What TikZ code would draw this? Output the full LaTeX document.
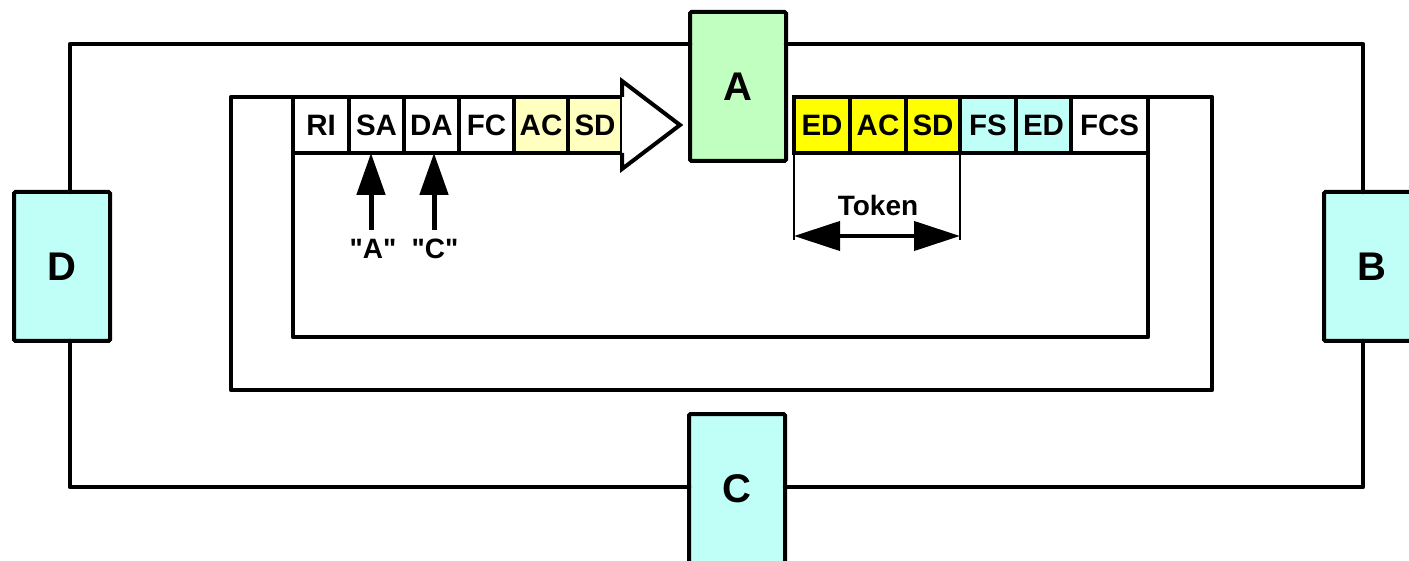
\documentclass[tikz,border=0pt]{standalone}
\usepackage{fontspec}
\setmainfont{Liberation Sans}
\newfontfamily\qfont{Liberation Sans}[Ligatures=TeXOff]
\usetikzlibrary{arrows.meta}
\definecolor{cyanbox}{RGB}{192,255,248}
\definecolor{greenbox}{RGB}{192,255,192}
\definecolor{paleyellow}{RGB}{255,255,192}
\definecolor{fullyellow}{RGB}{255,255,0}
\begin{document}
\begin{tikzpicture}[x=1pt,y=-1pt,
  station/.style={draw, line width=4pt, rounded corners=1.5pt, minimum width=96pt, minimum height=149pt, inner sep=0pt, outer sep=0pt, font=\bfseries\fontsize{40}{44}\selectfont},
  cell/.style={draw, line width=4pt, minimum height=56pt, inner sep=0pt, outer sep=0pt, font=\bfseries\fontsize{29.5}{31}\selectfont},
  ring/.style={line width=4.5pt, line join=round, line cap=round},
  lbl/.style={inner sep=0pt, font=\bfseries\fontsize{28}{30}\selectfont},
  uparrow/.style={line width=5pt, -{Triangle[length=42pt,width=28pt]}},
  dimline/.style={line width=2.5pt},
  dimarrow/.style={line width=4pt, {Triangle[length=46pt,width=29pt]}-{Triangle[length=46pt,width=29pt]}}
]
\useasboundingbox (0,0) rectangle (1409,561);
% coordinates
\coordinate (tl) at (70,44);
\coordinate (tr) at (1363,44);
\coordinate (bl) at (70,487);
\coordinate (br) at (1363,487);
\coordinate (mtl) at (231,97);
\coordinate (mbl) at (231,390);
\coordinate (mbr) at (1212,390);
\coordinate (mtr) at (1212,97);
\coordinate (ibl) at (293,337);
\coordinate (ibr) at (1148,337);
\coordinate (tokY) at (0,236);
\coordinate (dimB) at (0,240);
\coordinate (aA) at (371,230);
\coordinate (aC) at (434,230);
\coordinate (ah1) at (622,81);
\coordinate (ah2) at (680,125);
\coordinate (ah3) at (622,169);

% stations
\node[station, fill=greenbox] (A) at (738,86.5) {A};
\node[station, fill=cyanbox] (B) at (1372,266.5) {B};
\node[station, fill=cyanbox] (C) at (737,488.5) {C};
\node[station, fill=cyanbox] (D) at (62,266.5) {D};

% frame cells (left, travelling)
\node[cell, fill=white, minimum width=56pt] (RI) at (321,125) {RI};
\node[cell, fill=white, minimum width=55pt] (SA) at (376.5,125) {SA};
\node[cell, fill=white, minimum width=55pt] (DA) at (431.5,125) {DA};
\node[cell, fill=white, minimum width=55pt] (FC) at (486.5,125) {FC};
\node[cell, fill=paleyellow, minimum width=54pt] (AC) at (541,125) {AC};
\node[cell, fill=paleyellow, minimum width=54pt] (SD) at (595,125) {SD};
\draw[line width=4pt, fill=white, line join=miter] (SD.north east) -- (ah1) -- (ah2) -- (ah3) -- (SD.south east);

% frame cells (right)
\node[cell, fill=fullyellow, minimum width=56pt] (ED1) at (822,125) {ED};
\node[cell, fill=fullyellow, minimum width=56pt] (AC2) at (878,125) {AC};
\node[cell, fill=fullyellow, minimum width=54pt] (SD2) at (933,125) {SD};
\node[cell, fill=cyanbox, minimum width=56pt] (FS) at (988,125) {FS};
\node[cell, fill=cyanbox, minimum width=55pt] (ED2) at (1043.5,125) {ED};
\node[cell, fill=white, minimum width=77pt] (FCS) at (1109.5,125) {FCS};

% outer ring
\draw[ring] (A.west |- tl) -- (tl) -- (D.north -| tl);
\draw[ring] (D.south -| bl) -- (bl) -- (C.west |- bl);
\draw[ring] (C.east |- br) -- (br) -- (B.south -| br);
\draw[ring] (B.north -| tr) -- (tr) -- (A.east |- tr);

% middle ring
\draw[ring] (RI.north west) -- (mtl) -- (mbl) -- (mbr) -- (mtr) -- (FCS.north east);
% inner ring
\draw[ring] (RI.south west) -- (RI.south west |- ibl) -- (ibr) -- (FCS.south east);

% address arrows
\node[lbl] (qA) at (373,249) {\qfont "A"};
\node[lbl] (qC) at (435,249) {\qfont "C"};
\draw[uparrow] (aA) -- (aA |- SA.south);
\draw[uparrow] (aC) -- (aC |- DA.south);

% token dimension
\draw[dimline] (ED1.south west) -- (ED1.south west |- dimB);
\draw[dimline] (SD2.south east) -- (SD2.south east |- dimB);
\draw[dimarrow] (ED1.south west |- tokY) -- (SD2.south east |- tokY);
\node[lbl] (tok) at (878,205) {Token};
\end{tikzpicture}
\end{document}
